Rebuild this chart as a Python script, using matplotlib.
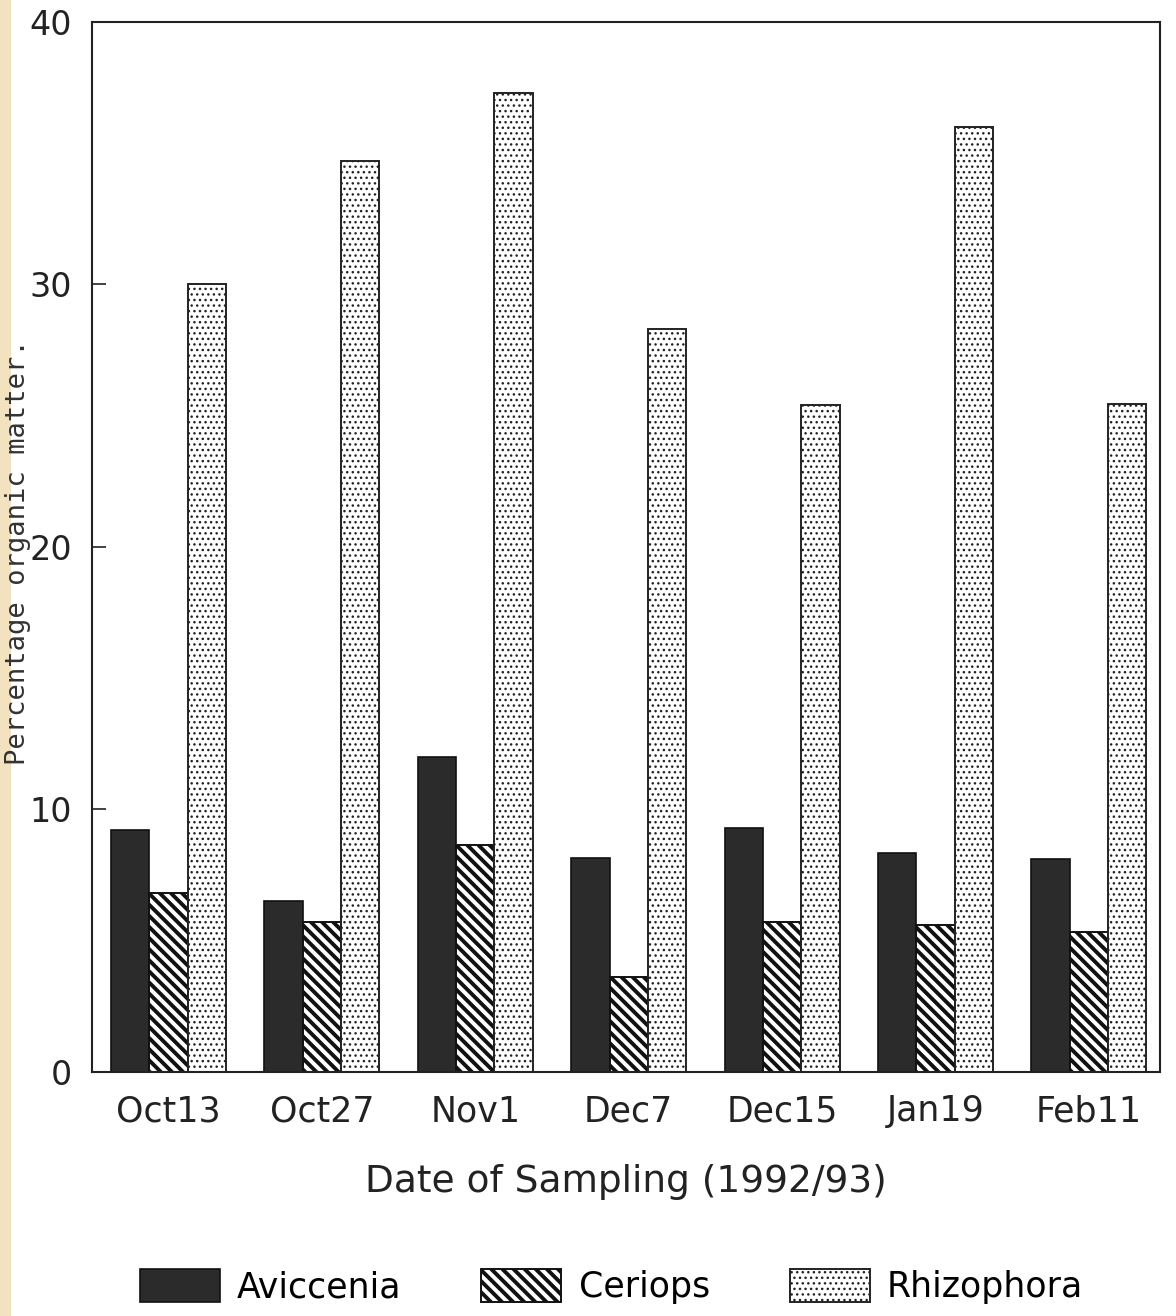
import matplotlib
matplotlib.use("Agg")
import matplotlib.pyplot as plt
import numpy as np
from matplotlib.patches import Rectangle

dates = ["Oct13", "Oct27", "Nov1", "Dec7", "Dec15", "Jan19", "Feb11"]
aviccenia = [9.2, 6.5, 12.0, 8.15, 9.3, 8.35, 8.1]
ceriops = [6.8, 5.7, 8.65, 3.6, 5.7, 5.6, 5.35]
rhizophora = [30.0, 34.7, 37.3, 28.3, 25.4, 36.0, 25.45]
series_names = ["Aviccenia", "Ceriops", "Rhizophora"]
yticks = [0, 10, 20, 30, 40]

plt.rcParams['font.family'] = ['DejaVu Sans']

fig = plt.figure(figsize=(11.76, 13.16), dpi=100)
fig.patches.append(Rectangle((0, 0), 0.009, 1, transform=fig.transFigure,
                             facecolor="#f3e2c0", edgecolor="none", zorder=-5))
ax = fig.add_axes([0.078, 0.1854, 0.908, 0.798])

x = np.arange(len(dates))
w = 0.25
b1 = ax.bar(x - w, aviccenia, w, color="#2b2b2b", edgecolor="#111111", linewidth=1.2, label=series_names[0])
plt.rcParams['hatch.linewidth'] = 2.8
b2 = ax.bar(x, ceriops, w, color="white", edgecolor="#111111", hatch="\\\\\\", linewidth=1.4, label=series_names[1])
plt.rcParams['hatch.linewidth'] = 1.0
b3 = ax.bar(x + w, rhizophora, w, color="white", edgecolor="#222222", hatch="...", linewidth=1.4, label=series_names[2])

ax.set_ylim(0, 40)
ax.set_xlim(-0.5, 6.46)
ax.set_yticks(yticks)
ax.set_xticks(x)
ax.set_xticklabels(dates)
ax.tick_params(axis='y', direction='in', length=10, width=1.2, labelsize=24, pad=14, colors="#222222")
ax.tick_params(axis='x', length=0, labelsize=25, pad=16, colors="#222222")
for s in ax.spines.values():
    s.set_linewidth(1.5)
    s.set_color("#222222")

ax.set_xlabel("Date of Sampling (1992/93)", fontsize=27, labelpad=26, color="#222222")
ax.set_ylabel("Percentage organic matter.", fontsize=19.5, color="#333333",
              family=["DejaVu Sans Mono"])
ax.yaxis.set_label_coords(-0.057, 0.495)

leg = fig.legend(handles=[b1, b2, b3], labels=series_names, loc="lower center",
                 bbox_to_anchor=(0.52, -0.015), ncol=3, frameon=False, fontsize=25,
                 handlelength=2.3, handleheight=1.1, columnspacing=2.3, handletextpad=0.5)
for p, lw in zip(leg.get_patches(), [1.0, 2.8, 1.0]):
    if hasattr(p, "set_hatch_linewidth"):
        p.set_hatch_linewidth(lw)
    else:
        p._hatch_linewidth = lw

fig.savefig("out.png", dpi=100, facecolor="white")
